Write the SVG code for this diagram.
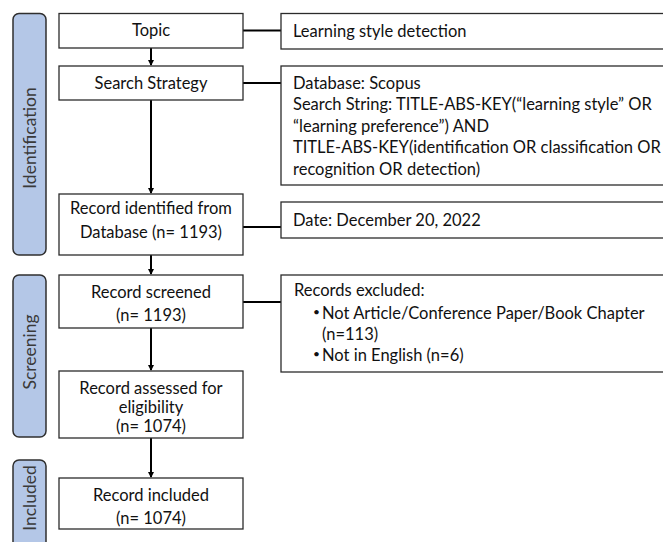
<svg xmlns="http://www.w3.org/2000/svg" width="663" height="542" viewBox="0 0 663 542">
<style>
.box{fill:#fff;stroke:#2b2b2b;stroke-width:1.3}
.bar{fill:#b4c7e7;stroke:#2f2f2f;stroke-width:1.5}
.t{font-family:Lato,"Open Sans",sans-serif;font-size:16.5px;fill:#111}
.c{text-anchor:middle}
.b{font-family:Lato,"Open Sans",sans-serif;font-size:12px;fill:#111}
.side{font-family:Lato,"Open Sans",sans-serif;font-size:17.5px;fill:#3a3a3a;text-anchor:middle}
.ln{stroke:#000;stroke-width:2;fill:none}
</style>
<defs>
<marker id="ah" markerWidth="6" markerHeight="6" refX="5" refY="3" orient="auto" markerUnits="userSpaceOnUse">
<path d="M0,0 L6,3 L0,6 Z" fill="#000"/>
</marker>
</defs>
<rect width="663" height="542" fill="#fff"/>
<g id="phase-identification">
<rect class="bar" x="13" y="13.5" width="33" height="241.5" rx="6"/>
<text class="side" transform="translate(35.5,138) rotate(-90)">Identification</text>
</g>
<g id="phase-screening">
<rect class="bar" x="13" y="275" width="33" height="162" rx="6"/>
<text class="side" transform="translate(35.5,352) rotate(-90)">Screening</text>
</g>
<g id="phase-included">
<rect class="bar" x="13" y="460" width="33" height="100" rx="6"/>
<text class="side" transform="translate(35.5,498) rotate(-90)">Included</text>
</g>
<g id="connectors">
<line class="ln" x1="151" y1="48" x2="151" y2="65" marker-end="url(#ah)"/>
<line class="ln" x1="151" y1="100" x2="151" y2="193" marker-end="url(#ah)"/>
<line class="ln" x1="151" y1="255" x2="151" y2="274" marker-end="url(#ah)"/>
<line class="ln" x1="151" y1="328" x2="151" y2="370" marker-end="url(#ah)"/>
<line class="ln" x1="151" y1="438" x2="151" y2="477" marker-end="url(#ah)"/>
<line class="ln" x1="243" y1="30.5" x2="281" y2="30.5"/>
<line class="ln" x1="243" y1="83" x2="281" y2="83"/>
<line class="ln" x1="243" y1="227" x2="281" y2="227"/>
<line class="ln" x1="243" y1="302" x2="281" y2="302"/>
</g>
<g id="topic">
<rect class="box" x="59" y="13.5" width="184" height="34.5"/>
<text class="t c" x="151" y="36">Topic</text>
</g>
<g id="search-strategy">
<rect class="box" x="59" y="66" width="184" height="34"/>
<text class="t c" x="151" y="88.5">Search Strategy</text>
</g>
<g id="record-identified">
<rect class="box" x="59" y="194" width="184" height="61"/>
<text class="t c" x="151" y="213.5">Record identified from</text>
<text class="t c" x="151" y="237.5">Database (n= 1193)</text>
</g>
<g id="record-screened">
<rect class="box" x="59" y="275" width="184" height="53"/>
<text class="t c" x="151" y="297.5">Record screened</text>
<text class="t c" x="151" y="320.5">(n= 1193)</text>
</g>
<g id="record-assessed">
<rect class="box" x="59" y="371" width="184" height="67"/>
<text class="t c" x="151" y="393.5">Record assessed for</text>
<text class="t c" x="151" y="412.5">eligibility</text>
<text class="t c" x="151" y="431.5">(n= 1074)</text>
</g>
<g id="record-included">
<rect class="box" x="59" y="478" width="184" height="51"/>
<text class="t c" x="151" y="500.5">Record included</text>
<text class="t c" x="151" y="523.5">(n= 1074)</text>
</g>
<g id="topic-detail">
<rect class="box" x="281" y="13.5" width="390" height="35.5"/>
<text class="t" x="293" y="36.5">Learning style detection</text>
</g>
<g id="search-detail">
<rect class="box" x="281" y="66" width="390" height="119"/>
<text class="t" x="293" y="88.5">Database: Scopus</text>
<text class="t" x="293" y="110">Search String: TITLE-ABS-KEY(“learning style” OR</text>
<text class="t" x="293" y="131.5">“learning preference”) AND</text>
<text class="t" x="293" y="153">TITLE-ABS-KEY(identification OR classification OR</text>
<text class="t" x="293" y="174.5">recognition OR detection)</text>
</g>
<g id="date-detail">
<rect class="box" x="281" y="202" width="390" height="36"/>
<text class="t" x="293" y="225.5">Date: December 20, 2022</text>
</g>
<g id="excluded-detail">
<rect class="box" x="281" y="275" width="390" height="97"/>
<text class="t" x="294" y="295.5">Records excluded:</text>
<text class="b" x="313" y="316">•</text>
<text class="t" x="322" y="318.5">Not Article/Conference Paper/Book Chapter</text>
<text class="t" x="322" y="339.5">(n=113)</text>
<text class="b" x="313" y="358">•</text>
<text class="t" x="322" y="360.5">Not in English (n=6)</text>
</g>
</svg>
